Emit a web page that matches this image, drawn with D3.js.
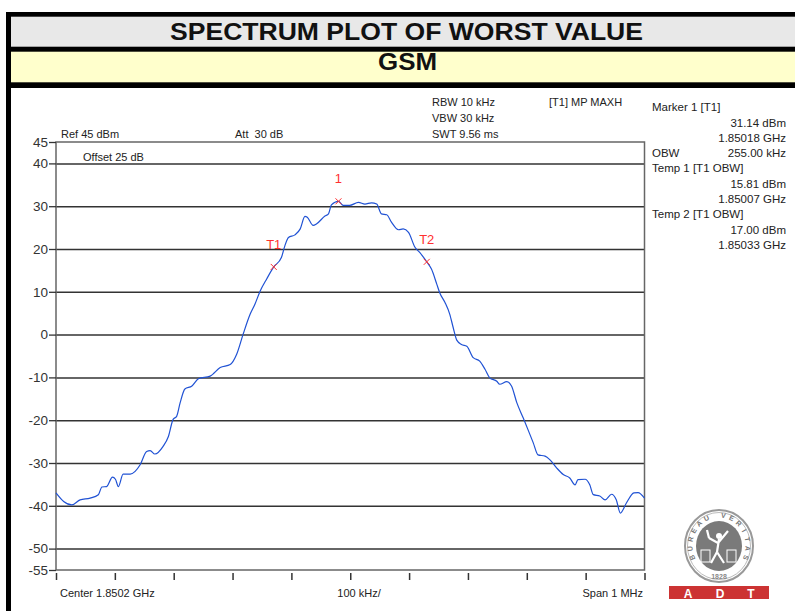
<!DOCTYPE html>
<meta charset='utf-8'>
<head>
    <title>Spectrum plot</title>
    <script src='https://cdn.jsdelivr.net/npm/d3@7/dist/d3.min.js'></script>
</head>

<style>
    body { margin: 0; background: white; }
    svg { display: block; font-family: 'Liberation Sans', Arial, sans-serif; }
    .note { font-size: 11px; fill: #222; }
    .side { font-size: 11.5px; fill: #222; }
    .ytick text { font-size: 13.5px; fill: #333; }
    .grid line { stroke: #333; stroke-width: 1.5; }
    .trace { fill: none; stroke: #2052d4; stroke-width: 1.2; }
    .mk { stroke: #ff3030; stroke-width: 1; }
    .mklabel { font-size: 13px; fill: #ff3030; text-anchor: middle; }
</style>

<svg></svg>

<script>
    // ---- data ----
    var vTitle = 'SPECTRUM PLOT OF WORST VALUE';
    var vSub = 'GSM';

    var vYTicks = [45, 40, 30, 20, 10, 0, -10, -20, -30, -40, -50, -55];
    var vGrid = [40, 30, 20, 10, 0, -10, -20, -30, -40, -50];

    // trace frequency (MHz) and level (dBm)
    var vFreq = [1849.700, 1849.713, 1849.727, 1849.741, 1849.758, 1849.772, 1849.778, 1849.786, 1849.796, 1849.801,
        1849.806, 1849.814, 1849.826, 1849.843, 1849.854, 1849.860, 1849.868, 1849.882, 1849.891, 1849.899,
        1849.905, 1849.911, 1849.919, 1849.931, 1849.942, 1849.962, 1849.979, 1849.996, 1850.007, 1850.018,
        1850.030, 1850.038, 1850.047, 1850.058, 1850.070, 1850.083, 1850.089, 1850.095, 1850.106, 1850.115,
        1850.123, 1850.127, 1850.137, 1850.143, 1850.157, 1850.163, 1850.168, 1850.180, 1850.188, 1850.199,
        1850.214, 1850.225, 1850.236, 1850.245, 1850.253, 1850.262, 1850.270, 1850.282, 1850.290, 1850.299,
        1850.310, 1850.318, 1850.330, 1850.338, 1850.347, 1850.352, 1850.361, 1850.369, 1850.375, 1850.381,
        1850.389, 1850.398, 1850.409, 1850.420, 1850.429, 1850.437, 1850.449, 1850.454, 1850.466, 1850.474,
        1850.483, 1850.494, 1850.502, 1850.511, 1850.519, 1850.531, 1850.539, 1850.551, 1850.562, 1850.573,
        1850.582, 1850.587, 1850.599, 1850.607, 1850.613, 1850.624, 1850.633, 1850.644, 1850.652, 1850.659,
        1850.669, 1850.682, 1850.689, 1850.700];
    var vLevel = [-37.0, -39.0, -39.8, -38.6, -38.2, -37.4, -35.6, -35.5, -33.3, -33.8,
        -35.5, -32.6, -32.6, -30.4, -27.3, -27.1, -27.9, -26.1, -23.8, -19.8,
        -19.1, -15.9, -12.7, -12.0, -10.3, -9.7, -7.7, -7.0, -4.6, 0.1,
        4.8, 7.1, 10.2, 13.0, 15.81, 18.0, 20.8, 22.7, 23.3, 24.7,
        27.6, 27.4, 25.5, 25.9, 27.7, 28.2, 30.3, 31.14, 30.2, 30.2,
        30.9, 30.5, 30.8, 30.5, 28.2, 28.0, 26.3, 24.5, 24.7, 23.9,
        20.4, 19.2, 17.0, 15.3, 11.8, 9.8, 7.5, 4.8, 1.6, -1.3,
        -2.3, -2.7, -5.4, -6.2, -8.1, -10.1, -10.9, -11.6, -11.0, -12.0,
        -15.9, -19.5, -22.2, -25.3, -28.1, -28.4, -29.2, -31.2, -32.7, -33.5,
        -35.1, -33.9, -33.8, -35.1, -37.4, -37.7, -38.6, -37.3, -38.6, -41.7,
        -39.4, -37.0, -36.9, -38.2];

    // markers
    var vMarkName = ['T1', '1', 'T2'];
    var vMarkFreq = [1850.070, 1850.180, 1850.330];
    var vMarkLevel = [15.81, 31.14, 17.00];

    var vTopNotes = ['Ref 45 dBm', 'Att  30 dB', 'Offset 25 dB', 'RBW 10 kHz', 'VBW 30 kHz', 'SWT 9.56 ms', '[T1] MP MAXH'];
    var vSideLeft = ['Marker 1 [T1]', '', '', 'OBW', 'Temp 1 [T1 OBW]', '', '', 'Temp 2 [T1 OBW]', '', ''];
    var vSideRight = ['', '31.14 dBm', '1.85018 GHz', '255.00 kHz', '', '15.81 dBm', '1.85007 GHz', '', '17.00 dBm', '1.85033 GHz'];
    var vBottom = ['Center 1.8502 GHz', '100 kHz/', 'Span 1 MHz'];

    var vWidth = 795, vHeight = 611;
    var svg = d3.select('svg').attr('width', vWidth).attr('height', vHeight);

    // ---- header bands ----
    svg.append('rect').attr('x', 6).attr('y', 12).attr('width', 800).attr('height', 76).attr('fill', '#000');
    svg.append('rect').attr('x', 11).attr('y', 16.7).attr('width', 800).attr('height', 30).attr('fill', '#e8e8e8');
    svg.append('rect').attr('x', 11).attr('y', 51.7).attr('width', 800).attr('height', 30.6).attr('fill', '#ffffcc');
    svg.append('rect').attr('x', 6).attr('y', 86).attr('width', 5).attr('height', 530).attr('fill', '#000');

    svg.append('text').attr('x', 406.5).attr('y', 39.5).attr('text-anchor', 'middle')
        .attr('font-size', 24).attr('font-weight', 'bold').attr('fill', '#111')
        .attr('textLength', 473).attr('lengthAdjust', 'spacingAndGlyphs').text(vTitle);
    svg.append('text').attr('x', 407.5).attr('y', 69.5).attr('text-anchor', 'middle')
        .attr('font-size', 24).attr('font-weight', 'bold').attr('fill', '#111')
        .attr('textLength', 59).attr('lengthAdjust', 'spacingAndGlyphs').text(vSub);

    // ---- scales ----
    var x = d3.scaleLinear().domain([1849.7, 1850.7]).range([56, 644.5]);
    var y = d3.scaleLinear().domain([-55, 45]).range([570, 142]);

    // gridlines
    svg.append('g').attr('class', 'grid')
        .attr('transform', 'translate(56,0)')
        .call(d3.axisRight(y).tickValues(vGrid).tickSize(588.5).tickFormat(''))
        .call(function (g) { g.select('.domain').remove(); });

    // frame
    svg.append('rect').attr('x', 56).attr('y', 142).attr('width', 588.5).attr('height', 428)
        .attr('fill', 'none').attr('stroke', '#666').attr('stroke-width', 1.5);

    // y axis (plain hyphen for negatives, as on the analyser)
    svg.append('g').attr('class', 'ytick')
        .attr('transform', 'translate(56,0)')
        .call(d3.axisLeft(y).tickValues(vYTicks).tickSize(7).tickPadding(1)
            .tickFormat(function (d) { return String(d); }))
        .call(function (g) {
            g.select('.domain').remove();
            g.selectAll('line').attr('stroke', '#333').attr('stroke-width', 1.3);
            g.selectAll('text').attr('font-family', null).attr('font-size', null);
        });

    // x ticks
    svg.append('g')
        .attr('transform', 'translate(0,573)')
        .call(d3.axisBottom(x).tickValues(d3.range(11).map(function (i) { return 1849.7 + i * 0.1; }))
            .tickSize(7).tickFormat(''))
        .call(function (g) {
            g.select('.domain').remove();
            g.selectAll('line').attr('stroke', '#333').attr('stroke-width', 1.5);
        });

    // ---- trace ----
    var vPts = vFreq.map(function (f, i) { return [f, vLevel[i]]; });
    svg.append('path').attr('class', 'trace')
        .attr('d', d3.line().x(function (d) { return x(d[0]); }).y(function (d) { return y(d[1]); }).curve(d3.curveMonotoneX)(vPts));

    // markers
    var mk = svg.selectAll('g.marker').data(vMarkName).enter().append('g')
        .attr('transform', function (d, i) { return 'translate(' + x(vMarkFreq[i]) + ',' + y(vMarkLevel[i]) + ')'; });
    mk.append('path').attr('class', 'mk').attr('d', 'M-3,-3L3,3M-3,3L3,-3');
    mk.append('text').attr('class', 'mklabel').attr('y', -18).text(function (d) { return d; });

    // ---- notes ----
    var vNotePos = [[61, 138], [235, 138], [83, 161], [432, 105.5], [432, 121.5], [432, 137.5], [549, 105.5]];
    svg.selectAll('text.note').data(vTopNotes).enter().append('text').attr('class', 'note')
        .attr('x', function (d, i) { return vNotePos[i][0]; })
        .attr('y', function (d, i) { return vNotePos[i][1]; })
        .attr('xml:space', 'preserve').style('white-space', 'pre')
        .text(function (d) { return d; });

    var vSideY = [111, 126.5, 142, 157, 172, 188, 203, 218, 234, 249];
    svg.selectAll('text.sidel').data(vSideLeft).enter().append('text').attr('class', 'side')
        .attr('x', 652).attr('y', function (d, i) { return vSideY[i]; }).text(function (d) { return d; });
    svg.selectAll('text.sider').data(vSideRight).enter().append('text').attr('class', 'side')
        .attr('x', 786).attr('text-anchor', 'end').attr('y', function (d, i) { return vSideY[i]; }).text(function (d) { return d; });

    var vBotX = [60, 359, 643], vBotAnchor = ['start', 'middle', 'end'];
    svg.selectAll('text.bot').data(vBottom).enter().append('text').attr('class', 'note')
        .attr('x', function (d, i) { return vBotX[i]; }).attr('y', 597)
        .attr('text-anchor', function (d, i) { return vBotAnchor[i]; })
        .text(function (d) { return d; });

    // ---- logo ----
    var logo = svg.append('g').attr('transform', 'translate(719,546)');
    logo.append('ellipse').attr('rx', 34).attr('ry', 36).attr('fill', 'white').attr('stroke', '#999').attr('stroke-width', 2);
    logo.append('ellipse').attr('rx', 31.5).attr('ry', 33.5).attr('fill', 'none').attr('stroke', '#bbb').attr('stroke-width', 1);
    logo.append('ellipse').attr('rx', 23).attr('ry', 25).attr('fill', '#7a7a7a');

    // seal lettering, one glyph at a time round the ring
    var vSeal = 'BUREAU VERITAS'.split('');
    var aScale = d3.scaleLinear().domain([0, vSeal.length - 1]).range([-112, 112]);
    logo.selectAll('text.seal').data(vSeal).enter().append('text')
        .attr('text-anchor', 'middle').attr('font-size', 7).attr('font-weight', 'bold').attr('fill', '#777')
        .attr('transform', function (d, i) {
            var a = aScale(i) * Math.PI / 180;
            return 'translate(' + (26.5 * Math.sin(a)) + ',' + (-28.5 * Math.cos(a)) + ') rotate(' + aScale(i) + ')';
        })
        .text(function (d) { return d; });
    logo.append('text').attr('y', 33).attr('text-anchor', 'middle').attr('font-size', 7)
        .attr('font-weight', 'bold').attr('fill', '#888').text('1828');

    // small white figure in the seal
    logo.append('circle').attr('cx', 0).attr('cy', -10).attr('r', 3).attr('fill', 'white');
    logo.append('path').attr('fill', 'none').attr('stroke', 'white').attr('stroke-width', 2.2)
        .attr('d', 'M0,-7 L-2,6 M-2,6 L-8,17 M-2,6 L5,17 M-1,-3 L9,-15 M-1,-3 L-10,-8 M-10,-8 L-12,-16');
    logo.append('rect').attr('x', -18).attr('y', 4).attr('width', 9).attr('height', 12).attr('fill', 'none').attr('stroke', 'white');
    logo.append('rect').attr('x', 8).attr('y', 4).attr('width', 9).attr('height', 12).attr('fill', 'none').attr('stroke', 'white');

    svg.append('rect').attr('x', 669).attr('y', 586).attr('width', 100).attr('height', 13).attr('fill', '#cc3333');
    var vAdt = ['A', 'D', 'T'], vAdtX = [688, 720, 751];
    svg.selectAll('text.adt').data(vAdt).enter().append('text')
        .attr('x', function (d, i) { return vAdtX[i]; }).attr('y', 597.5)
        .attr('text-anchor', 'middle').attr('font-size', 12).attr('font-weight', 'bold').attr('fill', 'white')
        .text(function (d) { return d; });
</script>
